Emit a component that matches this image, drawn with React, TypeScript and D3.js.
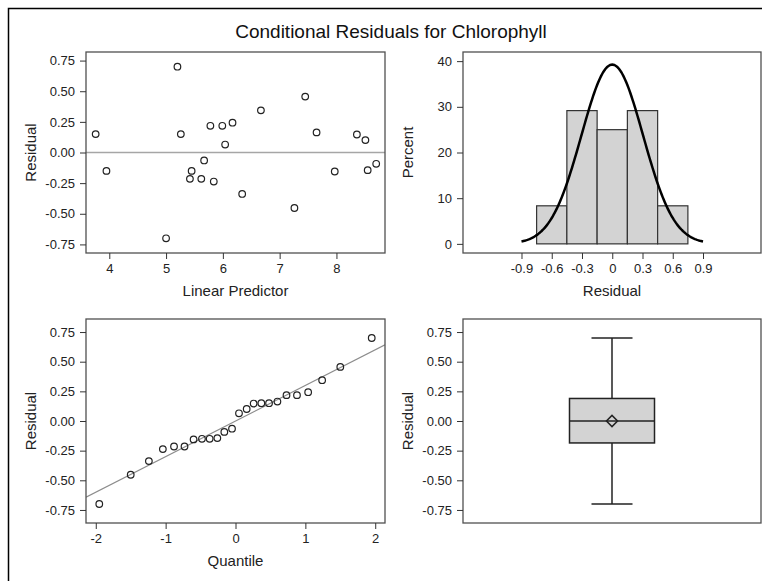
import { useEffect, useRef } from 'react';
import * as d3 from 'd3';

// residual panel data
const predictor = [3.76, 3.95, 5.0, 5.2, 5.26, 5.45, 5.42, 5.62, 5.67, 5.78, 5.84, 5.99, 6.04, 6.17, 6.34, 6.67, 7.26, 7.45, 7.65, 7.97, 8.36, 8.51, 8.55, 8.7];
const residual = [0.15, -0.15, -0.7, 0.7, 0.15, -0.15, -0.215, -0.215, -0.065, 0.218, -0.237, 0.218, 0.065, 0.243, -0.338, 0.344, -0.453, 0.456, 0.164, -0.155, 0.147, 0.101, -0.144, -0.092];

// normal quantiles on the QQ panel
const quantiles = [-1.95, -1.5, -1.24, -1.04, -0.88, -0.73, -0.6, -0.48, -0.37, -0.26, -0.16, -0.05, 0.05, 0.16, 0.26, 0.37, 0.48, 0.6, 0.73, 0.88, 1.04, 1.24, 1.5, 1.95];
const qqIntercept = 0;
const qqSlope = 0.3;

// histogram
const binMids = [-0.6, -0.3, 0, 0.3, 0.6];
const binPercent = [8.33, 29.17, 25.0, 29.17, 8.33];
const binWidth = 0.3;
const normalMean = 0;
const normalSd = 0.305;

// box plot
const boxCategory = ['Residual'];
const boxMin = [-0.7];
const boxQ1 = [-0.185];
const boxMedian = [0];
const boxQ3 = [0.19];
const boxMax = [0.7];
const boxMean = [0];

const residTicks = [-0.75, -0.5, -0.25, 0, 0.25, 0.5, 0.75];
const predTicks = [4, 5, 6, 7, 8];
const histTicks = [-0.9, -0.6, -0.3, 0, 0.3, 0.6, 0.9];
const pctTicks = [0, 10, 20, 30, 40];
const quantTicks = [-2, -1, 0, 1, 2];

const FONT = '"Liberation Sans", Arial, Helvetica, sans-serif';
const W = 762;
const H = 581;

const fmt2 = (d: number) => d.toFixed(2);
const fmtHist = (d: number) => (d === 0 ? '0' : d.toFixed(1));
const fmtInt = (d: number) => String(d);

type Frame = { x0: number; x1: number; y0: number; y1: number };

const TL: Frame = { x0: 86, x1: 385, y0: 52, y1: 253 };
const TR: Frame = { x0: 463, x1: 761, y0: 52, y1: 253 };
const BL: Frame = { x0: 86, x1: 385, y0: 319, y1: 523 };
const BR: Frame = { x0: 463, x1: 761, y0: 319, y1: 523 };

export default function App() {
  const svgRef = useRef<SVGSVGElement | null>(null);

  useEffect(() => {
    const svg = d3.select(svgRef.current);
    svg.selectAll('*').remove();

    svg.append('rect')
      .attr('width', W).attr('height', H).attr('fill', '#fff');

    // outer border (right/bottom run off the picture)
    svg.append('rect')
      .attr('x', 8.5).attr('y', 8.5)
      .attr('width', 800).attr('height', 620)
      .attr('fill', 'none').attr('stroke', '#000').attr('stroke-width', 1.5);

    svg.append('text')
      .attr('x', 391).attr('y', 38)
      .attr('text-anchor', 'middle')
      .attr('font-family', FONT).attr('font-size', 19).attr('fill', '#111')
      .text('Conditional Residuals for Chlorophyll');

    function axes(
      f: Frame,
      y: d3.ScaleLinear<number, number>,
      yTicks: number[],
      yFmt: (d: number) => string,
      yLabel: string,
      x?: d3.ScaleLinear<number, number>,
      xTicks?: number[],
      xFmt?: (d: number) => string,
      xLabel?: string
    ) {
      const ga = svg.append('g')
        .attr('transform', `translate(${f.x0},0)`)
        .call(d3.axisLeft(y).tickValues(yTicks).tickSize(6).tickPadding(5).tickFormat((d) => yFmt(+d)));
      ga.select('.domain').remove();
      ga.selectAll('line').attr('stroke', '#333');
      ga.selectAll('text').attr('font-family', FONT).attr('font-size', 13).attr('fill', '#222');

      svg.append('text')
        .attr('transform', `translate(${f.x0 - 50},${(f.y0 + f.y1) / 2}) rotate(-90)`)
        .attr('text-anchor', 'middle')
        .attr('font-family', FONT).attr('font-size', 15).attr('fill', '#222')
        .text(yLabel);

      if (x && xTicks && xFmt && xLabel) {
        const gb = svg.append('g')
          .attr('transform', `translate(0,${f.y1})`)
          .call(d3.axisBottom(x).tickValues(xTicks).tickSize(6).tickPadding(5).tickFormat((d) => xFmt(+d)));
        gb.select('.domain').remove();
        gb.selectAll('line').attr('stroke', '#333');
        gb.selectAll('text').attr('font-family', FONT).attr('font-size', 13).attr('fill', '#222');

        svg.append('text')
          .attr('x', (f.x0 + f.x1) / 2).attr('y', f.y1 + 43)
          .attr('text-anchor', 'middle')
          .attr('font-family', FONT).attr('font-size', 15).attr('fill', '#222')
          .text(xLabel);
      }
    }

    function frame(f: Frame) {
      svg.append('rect')
        .attr('x', f.x0).attr('y', f.y0)
        .attr('width', f.x1 - f.x0).attr('height', f.y1 - f.y0)
        .attr('fill', 'none').attr('stroke', '#505050').attr('stroke-width', 1.3);
    }

    function clip(id: string, f: Frame) {
      svg.append('clipPath').attr('id', id)
        .append('rect')
        .attr('x', f.x0).attr('y', f.y0)
        .attr('width', f.x1 - f.x0).attr('height', f.y1 - f.y0);
    }

    // ---- top left: residual vs linear predictor
    const x1 = d3.scaleLinear().domain([3.59, 8.855]).range([TL.x0, TL.x1]);
    const y1 = d3.scaleLinear().domain([-0.82, 0.82]).range([TL.y1, TL.y0]);
    svg.append('line')
      .attr('x1', TL.x0).attr('x2', TL.x1)
      .attr('y1', y1(0)).attr('y2', y1(0))
      .attr('stroke', '#a6a6a6').attr('stroke-width', 1.5);
    svg.append('g').selectAll('circle')
      .data(predictor)
      .enter().append('circle')
      .attr('cx', (d) => x1(d))
      .attr('cy', (_d, i) => y1(residual[i]))
      .attr('r', 3.3)
      .attr('fill', 'none').attr('stroke', '#222').attr('stroke-width', 1.2);
    frame(TL);
    axes(TL, y1, residTicks, fmt2, 'Residual', x1, predTicks, fmtInt, 'Linear Predictor');

    // ---- top right: histogram with normal density
    const x2 = d3.scaleLinear().domain([-1.48, 1.475]).range([TR.x0, TR.x1]);
    const y2 = d3.scaleLinear().domain([-2, 42]).range([TR.y1, TR.y0]);
    svg.append('g').selectAll('rect')
      .data(binMids)
      .enter().append('rect')
      .attr('x', (d) => x2(d - binWidth / 2))
      .attr('width', (d) => x2(d + binWidth / 2) - x2(d - binWidth / 2))
      .attr('y', (_d, i) => y2(binPercent[i]))
      .attr('height', (_d, i) => y2(0) - y2(binPercent[i]))
      .attr('fill', '#d3d3d3').attr('stroke', '#333').attr('stroke-width', 1.2);
    const curveX = d3.range(-0.9, 0.9001, 0.01);
    const dens = (v: number) =>
      (100 * binWidth * Math.exp(-0.5 * ((v - normalMean) / normalSd) ** 2)) / (normalSd * Math.sqrt(2 * Math.PI));
    svg.append('path')
      .datum(curveX)
      .attr('d', d3.line<number>().x((d) => x2(d)).y((d) => y2(dens(d))))
      .attr('fill', 'none').attr('stroke', '#000').attr('stroke-width', 2.5);
    frame(TR);
    axes(TR, y2, pctTicks, fmtInt, 'Percent', x2, histTicks, fmtHist, 'Residual');

    // ---- bottom left: QQ plot
    const x3 = d3.scaleLinear().domain([-2.14, 2.14]).range([BL.x0, BL.x1]);
    const y3 = d3.scaleLinear().domain([-0.86, 0.86]).range([BL.y1, BL.y0]);
    clip('qqclip', BL);
    const sorted = residual.slice().sort(d3.ascending);
    svg.append('line')
      .attr('clip-path', 'url(#qqclip)')
      .attr('x1', x3(-2.14)).attr('y1', y3(qqIntercept + qqSlope * -2.14))
      .attr('x2', x3(2.14)).attr('y2', y3(qqIntercept + qqSlope * 2.14))
      .attr('stroke', '#8c8c8c').attr('stroke-width', 1.2);
    svg.append('g').selectAll('circle')
      .data(quantiles)
      .enter().append('circle')
      .attr('cx', (d) => x3(d))
      .attr('cy', (_d, i) => y3(sorted[i]))
      .attr('r', 3.3)
      .attr('fill', 'none').attr('stroke', '#222').attr('stroke-width', 1.2);
    frame(BL);
    axes(BL, y3, residTicks, fmt2, 'Residual', x3, quantTicks, fmtInt, 'Quantile');

    // ---- bottom right: box plot
    const x4 = d3.scalePoint<string>().domain(boxCategory).range([BR.x0, BR.x1]).padding(0.5);
    const y4 = d3.scaleLinear().domain([-0.86, 0.86]).range([BR.y1, BR.y0]);
    const boxW = 85;
    const capW = 41;
    boxCategory.forEach((c, i) => {
      const cx = x4(c) as number;
      const g = svg.append('g').attr('stroke', '#222').attr('stroke-width', 1.5);
      g.append('line').attr('x1', cx).attr('x2', cx).attr('y1', y4(boxMax[i])).attr('y2', y4(boxQ3[i]));
      g.append('line').attr('x1', cx).attr('x2', cx).attr('y1', y4(boxQ1[i])).attr('y2', y4(boxMin[i]));
      g.append('line').attr('x1', cx - capW / 2).attr('x2', cx + capW / 2).attr('y1', y4(boxMax[i])).attr('y2', y4(boxMax[i]));
      g.append('line').attr('x1', cx - capW / 2).attr('x2', cx + capW / 2).attr('y1', y4(boxMin[i])).attr('y2', y4(boxMin[i]));
      g.append('rect')
        .attr('x', cx - boxW / 2).attr('width', boxW)
        .attr('y', y4(boxQ3[i])).attr('height', y4(boxQ1[i]) - y4(boxQ3[i]))
        .attr('fill', '#d3d3d3');
      g.append('line').attr('x1', cx - boxW / 2).attr('x2', cx + boxW / 2).attr('y1', y4(boxMedian[i])).attr('y2', y4(boxMedian[i]));
      g.append('path')
        .attr('d', d3.symbol().type(d3.symbolSquare).size(62)() as string)
        .attr('transform', `translate(${cx},${y4(boxMean[i])}) rotate(45)`)
        .attr('fill', 'none');
    });
    frame(BR);
    axes(BR, y4, residTicks, fmt2, 'Residual');
  }, []);

  return (
    <svg
      ref={svgRef}
      width={W}
      height={H}
      style={{ position: 'absolute', left: 0, top: 0, display: 'block' }}
    />
  );
}
